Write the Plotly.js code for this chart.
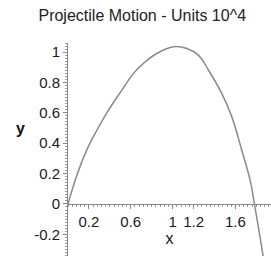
<!DOCTYPE html>
<html>
<head>
<meta charset="utf-8">
<script src="https://cdn.plot.ly/plotly-3.0.1.min.js"></script>
<style>html,body{margin:0;padding:0;background:#fff;}#chart{width:271px;height:256px;}</style>
</head>
<body>
<div id="chart"></div>
<script>
// Trajectory samples (units of 10^4)
const xVals = [0, 0.07, 0.165, 0.277, 0.387, 0.515, 0.626, 0.721, 0.849, 1.008, 1.135, 1.246, 1.342, 1.469, 1.565, 1.66, 1.74, 1.78, 1.864, 1.88];
const yVals = [0, 0.158, 0.333, 0.487, 0.618, 0.75, 0.86, 0.926, 0.991, 1.035, 1.024, 0.98, 0.882, 0.728, 0.575, 0.355, 0.158, 0.005, -0.342, -0.42];
const xTickVals = [0.2, 0.6, 1, 1.2, 1.6];
const xTickText = ['0.2', '0.6', '1', '1.2', '1.6'];
const yTickVals = [-0.2, 0, 0.2, 0.4, 0.6, 0.8, 1];
const yTickText = ['-0.2', '0', '0.2', '0.4', '0.6', '0.8', '1'];

const yRange = [-0.343, 1.06];
const xRange = [0, 1.94];
const zeroPos = (0 - yRange[0]) / (yRange[1] - yRange[0]);

const fam = 'Liberation Sans, Arial, sans-serif';
const tickFont = {family: fam, size: 15, color: '#1a1a1a'};

Plotly.newPlot('chart', [{
  x: xVals, y: yVals, type: 'scatter', mode: 'lines',
  line: {color: '#8a8a8a', width: 1.5, shape: 'spline', smoothing: 1.2},
  cliponaxis: true, hoverinfo: 'skip'
}], {
  width: 271, height: 256,
  margin: {l: 68, r: 0, t: 43, b: 0},
  paper_bgcolor: '#fff', plot_bgcolor: '#fff',
  showlegend: false,
  font: tickFont,
  title: {text: 'Projectile Motion - Units 10^4', x: 0.525, xanchor: 'center', y: 0.94, yanchor: 'middle',
          font: {family: fam, size: 16, color: '#222'}},
  xaxis: {
    range: xRange, anchor: 'free', position: zeroPos,
    showgrid: false, zeroline: false, showline: true, linecolor: '#888', linewidth: 1,
    tickmode: 'array', tickvals: xTickVals, ticktext: xTickText,
    ticks: 'outside', ticklen: 4, tickcolor: '#888', tickfont: tickFont,
    minor: {dtick: 0.04, tick0: 0, ticks: 'outside', ticklen: 2, tickcolor: '#999', showgrid: false},
    title: {text: 'x', font: {family: fam, size: 16, color: '#111'}, standoff: 0}
  },
  yaxis: {
    range: yRange,
    showgrid: false, zeroline: false, showline: true, linecolor: '#888', linewidth: 1,
    tickmode: 'array', tickvals: yTickVals, ticktext: yTickText,
    ticks: 'outside', ticklen: 4, tickcolor: '#888', tickfont: tickFont,
    minor: {dtick: 0.02, tick0: 0, ticks: 'outside', ticklen: 2, tickcolor: '#999', showgrid: false}
  },
  annotations: [{
    text: '<b>y</b>', xref: 'paper', yref: 'y', x: -0.235, y: 0.5, showarrow: false,
    xanchor: 'center', yanchor: 'middle', font: {family: fam, size: 16, color: '#111'}
  }]
}, {staticPlot: true});
</script>
</body>
</html>
